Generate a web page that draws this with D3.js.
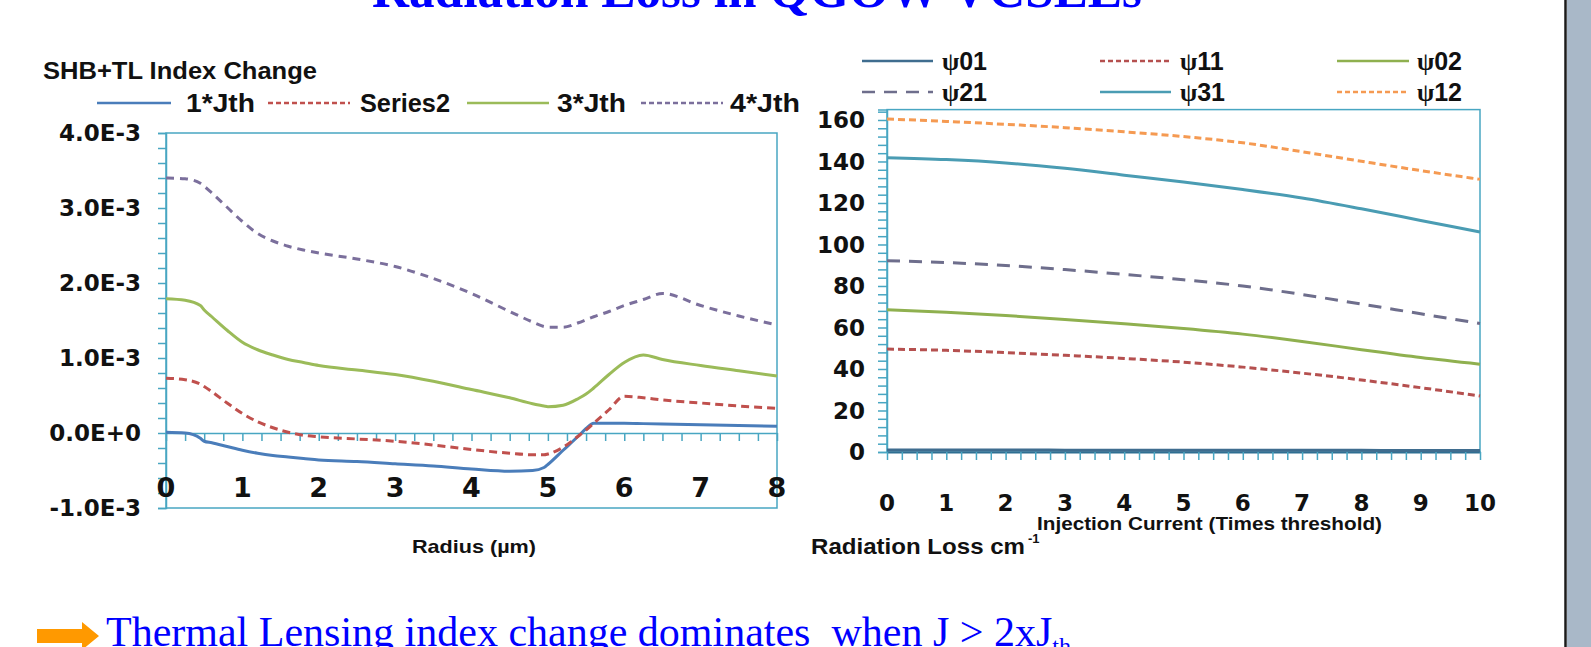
<!DOCTYPE html>
<html>
<head>
<meta charset="utf-8">
<script src="https://cdn.jsdelivr.net/npm/d3@7"></script>
<style>
  html, body { margin: 0; padding: 0; background: #fff; overflow: hidden; }
  svg { display: block; }
</style>
</head>
<body>
<svg id="chart" width="1591" height="647"></svg>
<script>
// ---------- Left panel: SHB+TL index change (units of 1e-3) vs radius (µm) ----------
const radius = [0, 0.25, 0.45, 0.5, 0.6, 0.8, 1.0, 1.2, 1.4, 1.6, 1.8, 2.0, 2.5, 3.0, 3.5, 4.0,
                4.5, 4.8, 4.95, 5.0, 5.2, 5.4, 5.5, 5.6, 5.8, 6.0, 6.25, 6.5, 7.0, 7.5, 8.0];
const jth1 = [0.01, 0.0, -0.07, -0.11, -0.13, -0.18, -0.23, -0.27, -0.30, -0.32, -0.34, -0.36, -0.38, -0.41, -0.44, -0.48,
              -0.51, -0.50, -0.46, -0.42, -0.23, -0.04, 0.06, 0.13, 0.13, 0.13, 0.125, 0.12, 0.11, 0.10, 0.09];
const series2 = [0.73, 0.71, 0.65, 0.62, 0.55, 0.40, 0.26, 0.15, 0.07, 0.01, -0.03, -0.05, -0.08, -0.11, -0.16, -0.22,
                 -0.27, -0.29, -0.29, -0.28, -0.19, -0.04, 0.04, 0.13, 0.31, 0.49, 0.47, 0.44, 0.40, 0.36, 0.33];
const jth3 = [1.79, 1.77, 1.70, 1.64, 1.55, 1.37, 1.21, 1.11, 1.04, 0.98, 0.94, 0.90, 0.84, 0.78, 0.69, 0.58,
              0.47, 0.39, 0.36, 0.35, 0.37, 0.46, 0.52, 0.60, 0.78, 0.94, 1.04, 0.98, 0.90, 0.83, 0.76];
const jth4 = [3.40, 3.39, 3.33, 3.29, 3.20, 3.01, 2.82, 2.66, 2.56, 2.49, 2.44, 2.40, 2.32, 2.22, 2.06, 1.86,
              1.62, 1.48, 1.42, 1.41, 1.41, 1.47, 1.51, 1.55, 1.62, 1.70, 1.78, 1.86, 1.70, 1.56, 1.44];
const leftNames = ["1*Jth", "Series2", "3*Jth", "4*Jth"];
const leftYTicks = [-1, 0, 1, 2, 3, 4];
const leftYLabels = ["-1.0E-3", "0.0E+0", "1.0E-3", "2.0E-3", "3.0E-3", "4.0E-3"];
const leftXTicks = [0, 1, 2, 3, 4, 5, 6, 7, 8];

// ---------- Right panel: radiation loss (cm^-1) vs injection current ----------
const current = [0, 1, 2, 3, 4, 5, 6, 7, 8, 9, 10];
const psi01 = [1.0, 1.0, 1.0, 0.9, 0.9, 0.9, 0.8, 0.8, 0.8, 0.7, 0.7];
const psi11 = [49.6, 49.0, 47.9, 46.6, 45.1, 43.3, 40.9, 38.0, 34.7, 31.0, 27.0];
const psi02 = [68.5, 67.4, 65.8, 63.9, 61.8, 59.5, 56.8, 53.3, 49.3, 45.5, 42.3];
const psi21 = [92.2, 91.3, 89.9, 87.9, 85.6, 83.0, 80.0, 75.9, 71.3, 66.6, 61.9];
const psi31 = [141.8, 140.9, 139.3, 136.7, 133.4, 130.1, 126.5, 122.4, 117.2, 111.6, 106.0];
const psi12 = [160.5, 159.3, 157.9, 156.3, 154.3, 152.0, 149.0, 144.7, 140.1, 135.6, 131.4];
const rightNames = ["01", "11", "02", "21", "31", "12"];
const rightYTicks = [0, 20, 40, 60, 80, 100, 120, 140, 160];
const rightXTicks = [0, 1, 2, 3, 4, 5, 6, 7, 8, 9, 10];

// ---------- drawing ----------
const svg = d3.select("#chart");
const FRAME = "#48a6c2";
const NUM = "'DejaVu Sans', 'Liberation Sans', sans-serif";
const LBL = "'Liberation Sans', Arial, sans-serif";
const SERIF = "'Liberation Serif', 'Times New Roman', serif";

function fit(sel, w) {
  return sel.attr("textLength", w).attr("lengthAdjust", "spacingAndGlyphs");
}

// slide title (partly above the top edge)
fit(svg.append("text").attr("x", 372).attr("y", 7)
  .attr("font-family", SERIF).attr("font-weight", "bold").attr("font-size", 52)
  .attr("fill", "#0000ff").text("Radiation Loss in QGOW VCSELs"), 770);

// ===== left panel =====
const xL = d3.scaleLinear().domain([0, 8]).range([166, 777]);
const yL = d3.scaleLinear().domain([-1, 4]).range([508, 133]);
const gL = svg.append("g");

gL.append("rect").attr("x", xL(0)).attr("y", yL(4))
  .attr("width", xL(8) - xL(0)).attr("height", yL(-1) - yL(4))
  .attr("fill", "#fff").attr("stroke", FRAME).attr("stroke-width", 1.5);

// y axis: minor ticks every 0.2e-3
const yAxisL = gL.append("g").attr("transform", `translate(${xL(0)},0)`)
  .call(d3.axisLeft(yL).tickValues(d3.range(-1, 4.0001, 0.2)).tickSize(8).tickFormat(""));
yAxisL.selectAll("path, line").attr("stroke", FRAME).attr("stroke-width", 1.5);

// x axis along zero with ticks every 0.25 µm
const xAxisL = gL.append("g").attr("transform", `translate(0,${yL(0)})`)
  .call(d3.axisBottom(xL).tickValues(d3.range(0, 8.0001, 0.25)).tickSize(8).tickSizeOuter(0).tickFormat(""));
xAxisL.selectAll("path, line").attr("stroke", FRAME).attr("stroke-width", 1.5);

gL.selectAll(".ylab").data(leftYTicks).join("text")
  .attr("x", 141).attr("y", d => yL(d)).attr("dy", "0.36em")
  .attr("text-anchor", "end").attr("font-family", NUM).attr("font-weight", "bold")
  .attr("font-size", 23).attr("fill", "#111").text((d, i) => leftYLabels[i]);

gL.selectAll(".xlab").data(leftXTicks).join("text")
  .attr("x", d => xL(d)).attr("y", 497)
  .attr("text-anchor", "middle").attr("font-family", NUM).attr("font-weight", "bold")
  .attr("font-size", 27).attr("fill", "#111").text(d => d);

const leftSeries = [
  { v: jth1, color: "#4a7dba", dash: null },
  { v: series2, color: "#c0504d", dash: "8,5" },
  { v: jth3, color: "#9bbb59", dash: null },
  { v: jth4, color: "#7b6f9c", dash: "8,6" }
];
const lineL = vals => d3.line().x((d, i) => xL(radius[i])).y(d => yL(d)).curve(d3.curveMonotoneX)(vals);
gL.selectAll(".sL").data(leftSeries).join("path")
  .attr("d", d => lineL(d.v)).attr("fill", "none")
  .attr("stroke", d => d.color).attr("stroke-width", 3)
  .attr("stroke-dasharray", d => d.dash);

fit(svg.append("text").attr("x", 43).attr("y", 79)
  .attr("font-family", LBL).attr("font-weight", "bold").attr("font-size", 24)
  .attr("fill", "#111").text("SHB+TL Index Change"), 274);

const legL = [
  { x1: 97, x2: 171, tx: 186, tw: 69 },
  { x1: 268, x2: 350, tx: 360, tw: 90 },
  { x1: 467, x2: 549, tx: 557, tw: 69 },
  { x1: 641, x2: 723, tx: 730, tw: 70 }
];
legL.forEach((p, i) => {
  const s = leftSeries[i];
  svg.append("line").attr("x1", p.x1).attr("x2", p.x2).attr("y1", 103).attr("y2", 103)
    .attr("stroke", s.color).attr("stroke-width", 2.5)
    .attr("stroke-dasharray", s.dash ? "5,3" : null);
  fit(svg.append("text").attr("x", p.tx).attr("y", 112)
    .attr("font-family", LBL).attr("font-weight", "bold").attr("font-size", 25)
    .attr("fill", "#111").text(leftNames[i]), p.tw);
});

fit(svg.append("text").attr("x", 412).attr("y", 553)
  .attr("font-family", LBL).attr("font-weight", "bold").attr("font-size", 19)
  .attr("fill", "#111").text("Radius (µm)"), 124);

// ===== right panel =====
const xR = d3.scaleLinear().domain([0, 10]).range([887, 1480]);
const yR = d3.scaleLinear().domain([0, 165]).range([452, 109.6]);
const gR = svg.append("g");

gR.append("rect").attr("x", xR(0)).attr("y", yR(165))
  .attr("width", xR(10) - xR(0)).attr("height", yR(0) - yR(165))
  .attr("fill", "#fff").attr("stroke", FRAME).attr("stroke-width", 1.5);

const yAxisR = gR.append("g").attr("transform", `translate(${xR(0)},0)`)
  .call(d3.axisLeft(yR).tickValues(d3.range(0, 165, 4)).tickSize(9).tickFormat(""));
yAxisR.selectAll("path, line").attr("stroke", FRAME).attr("stroke-width", 1.5);

const xAxisR = gR.append("g").attr("transform", `translate(0,${yR(0)})`)
  .call(d3.axisBottom(xR).tickValues(d3.range(0, 10.0001, 0.25)).tickSize(8).tickSizeOuter(0).tickFormat(""));
xAxisR.selectAll("line").attr("stroke", FRAME).attr("stroke-width", 1.5);
xAxisR.select("path").attr("stroke", "#2f6f92").attr("stroke-width", 2);

gR.selectAll(".ylabR").data(rightYTicks).join("text")
  .attr("x", 865).attr("y", d => yR(d)).attr("dy", "0.36em")
  .attr("text-anchor", "end").attr("font-family", NUM).attr("font-weight", "bold")
  .attr("font-size", 23).attr("fill", "#111").text(d => d);

gR.selectAll(".xlabR").data(rightXTicks).join("text")
  .attr("x", d => xR(d)).attr("y", 511)
  .attr("text-anchor", "middle").attr("font-family", NUM).attr("font-weight", "bold")
  .attr("font-size", 23).attr("fill", "#111").text(d => d);

const rightSeries = [
  { v: psi01, color: "#3f6d8f", dash: null, ld: null },
  { v: psi11, color: "#b5504f", dash: "7,4", ld: "5,3" },
  { v: psi02, color: "#8fb04f", dash: null, ld: null },
  { v: psi21, color: "#6e6e8c", dash: "13,9", ld: "13,9" },
  { v: psi31, color: "#4a9cb3", dash: null, ld: null },
  { v: psi12, color: "#f59a52", dash: "7,4", ld: "5,3" }
];
const lineR = vals => d3.line().x((d, i) => xR(current[i])).y(d => yR(d)).curve(d3.curveMonotoneX)(vals);
gR.selectAll(".sR").data(rightSeries).join("path")
  .attr("d", d => lineR(d.v)).attr("fill", "none")
  .attr("stroke", d => d.color).attr("stroke-width", 3)
  .attr("stroke-dasharray", d => d.dash);

const legCols = [{ x1: 862, x2: 933, tx: 942 }, { x1: 1100, x2: 1171, tx: 1180 }, { x1: 1337, x2: 1409, tx: 1417 }];
const legRows = [61, 92];
rightSeries.forEach((s, i) => {
  const c = legCols[i % 3], ry = legRows[Math.floor(i / 3)];
  svg.append("line").attr("x1", c.x1).attr("x2", c.x2).attr("y1", ry).attr("y2", ry)
    .attr("stroke", s.color).attr("stroke-width", 2.5).attr("stroke-dasharray", s.ld);
  const t = svg.append("text").attr("x", c.tx).attr("y", ry + 9)
    .attr("font-family", LBL).attr("font-weight", "bold").attr("font-size", 25).attr("fill", "#111");
  t.append("tspan").attr("font-family", SERIF).text("ψ");
  t.append("tspan").text(rightNames[i]);
});

fit(svg.append("text").attr("x", 1037).attr("y", 530)
  .attr("font-family", LBL).attr("font-weight", "bold").attr("font-size", 19)
  .attr("fill", "#111").text("Injection Current (Times threshold)"), 345);

fit(svg.append("text").attr("x", 811).attr("y", 554)
  .attr("font-family", LBL).attr("font-weight", "bold").attr("font-size", 22)
  .attr("fill", "#111").text("Radiation Loss cm"), 214);
svg.append("text").attr("x", 1028).attr("y", 543)
  .attr("font-family", LBL).attr("font-weight", "bold").attr("font-size", 13)
  .attr("fill", "#111").text("-1");

// ===== bottom statement with arrow (runs past the bottom edge) =====
svg.append("path")
  .attr("d", "M37,629 L82,629 L82,622 L99,636 L82,650 L82,643 L37,643 Z")
  .attr("fill", "#ff9900");
const note = svg.append("text").attr("x", 106).attr("y", 646)
  .style("white-space", "pre")
  .attr("font-family", SERIF).attr("font-size", 42).attr("fill", "#0000ff");
note.append("tspan").text("Thermal Lensing index change dominates  when J > 2xJ");
note.append("tspan").attr("font-size", 24).attr("dy", 8).text("th");

// ===== slide edge =====
svg.append("rect").attr("x", 1567).attr("y", 0).attr("width", 24).attr("height", 647).attr("fill", "#a9b8c8");
svg.append("line").attr("x1", 1565.5).attr("x2", 1565.5).attr("y1", 0).attr("y2", 647)
  .attr("stroke", "#1a1a1a").attr("stroke-width", 2.5);
</script>
</body>
</html>
